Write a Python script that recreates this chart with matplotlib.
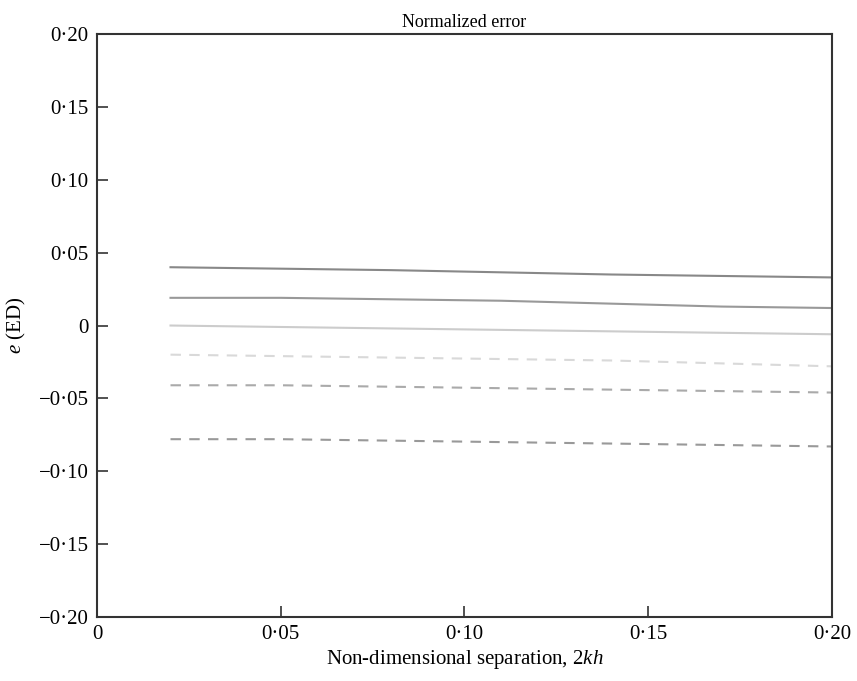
import numpy as np
import matplotlib.pyplot as plt
from matplotlib.ticker import FixedLocator, FuncFormatter

plt.rcParams['font.family'] = ['Liberation Serif', 'DejaVu Serif']
plt.rcParams['mathtext.fontset'] = 'custom'
plt.rcParams['mathtext.it'] = 'Liberation Serif:italic'
plt.rcParams['mathtext.rm'] = 'Liberation Serif'

# separation values and the normalized error curves
kh2 = [0.02, 0.05, 0.08, 0.11, 0.14, 0.17, 0.20]
e_solid_1 = [0.040, 0.039, 0.038, 0.0365, 0.035, 0.034, 0.033]
e_solid_2 = [0.019, 0.019, 0.018, 0.017, 0.015, 0.013, 0.012]
e_solid_3 = [0.000, -0.001, -0.002, -0.003, -0.004, -0.005, -0.006]
e_dash_1 = [-0.020, -0.021, -0.022, -0.023, -0.024, -0.026, -0.028]
e_dash_2 = [-0.041, -0.041, -0.042, -0.043, -0.044, -0.045, -0.046]
e_dash_3 = [-0.078, -0.078, -0.079, -0.080, -0.081, -0.082, -0.083]

xticks = [0, 0.05, 0.10, 0.15, 0.20]
yticks = [-0.20, -0.15, -0.10, -0.05, 0, 0.05, 0.10, 0.15, 0.20]


def dot_fmt(v, pos):
    if abs(v) < 1e-9:
        return '0'
    s = '%.2f' % abs(v)
    s = s.replace('.', '\u00b7')
    return ('\u2212' if v < 0 else '') + s


fig = plt.figure(figsize=(8.57, 6.81), dpi=100)
ax = fig.add_axes([0.1132, 0.094, 0.8576, 0.856])

ax.plot(kh2, e_solid_1, color='#888888', lw=1.5)
ax.plot(kh2, e_solid_2, color='#999999', lw=1.5)
ax.plot(kh2, e_solid_3, color='#cccccc', lw=1.5)
ax.plot(kh2, e_dash_1, color='#d9d9d9', lw=1.5, ls=(0, (5, 4)))
ax.plot(kh2, e_dash_2, color='#aaaaaa', lw=1.5, ls=(0, (5, 4)))
ax.plot(kh2, e_dash_3, color='#999999', lw=1.5, ls=(0, (5, 4)))

ax.set_xlim(0, 0.20)
ax.set_ylim(-0.20, 0.20)
ax.xaxis.set_major_locator(FixedLocator(xticks))
ax.yaxis.set_major_locator(FixedLocator(yticks))
ax.xaxis.set_major_formatter(FuncFormatter(dot_fmt))
ax.yaxis.set_major_formatter(FuncFormatter(dot_fmt))
ax.tick_params(direction='in', length=8, width=1.2, labelsize=15, color='#333333', pad=6)

for sp in ax.spines.values():
    sp.set_linewidth(1.5)
    sp.set_color('#333333')

ax.set_title('Normalized error', fontsize=13, pad=5)
ax.set_xlabel('Non-dimensional separation, 2$\\mathit{kh}$', fontsize=15, labelpad=3)
ax.set_ylabel('$\\mathit{e}$ (ED)', fontsize=15, labelpad=8)

fig.savefig('out.png', dpi=100)
